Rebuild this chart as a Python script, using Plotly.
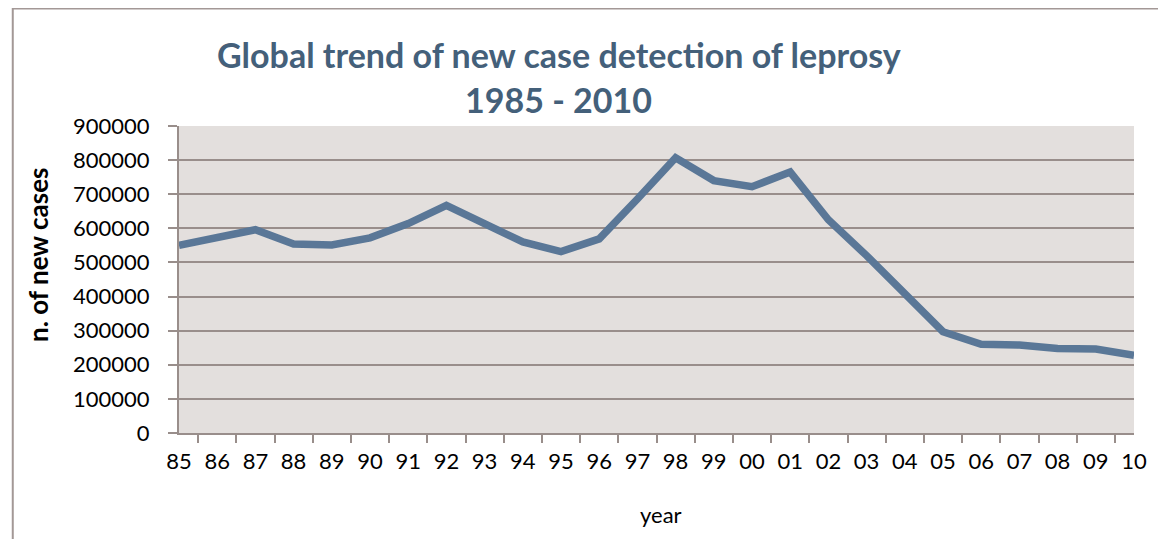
import plotly.graph_objects as go

years = ["85", "86", "87", "88", "89", "90", "91", "92", "93", "94", "95", "96", "97",
         "98", "99", "00", "01", "02", "03", "04", "05", "06", "07", "08", "09", "10"]
new_cases = [550000, 575000, 596000, 554000, 551000, 572000, 614000, 667000, 614000,
             560000, 532000, 569000, 686000, 807000, 740000, 722000, 765000, 625000,
             520000, 410000, 297000, 260000, 258000, 248000, 246000, 228000]
y_ticks = [0, 100000, 200000, 300000, 400000, 500000, 600000, 700000, 800000, 900000]

# page body has an 8px margin; keep the figure small enough to avoid scrollbars
OFF = 8
W, H = 1166 - 2 * OFF, 547 - 2 * OFF
px_left, px_right, px_top, px_bottom = 179, 1147, 126, 433
L = px_left - OFF
R = W - (px_right - OFF)
T = px_top - OFF
B = H - (px_bottom - OFF)
pw, ph = W - L - R, H - T - B


def xp(sx):
    return (sx - OFF - L) / pw


def yp(sy):
    return (H - B - (sy - OFF)) / ph


FONT = "Lato"
grid_col = "#998e8b"

fig = go.Figure()
fig.add_trace(go.Scatter(
    x=years, y=new_cases, mode="lines",
    line=dict(color="#5a7797", width=7.5),
    hoverinfo="x+y", showlegend=False,
))

fig.update_layout(
    width=W, height=H,
    margin=dict(l=L, r=R, t=T, b=B),
    paper_bgcolor="white",
    plot_bgcolor="#e3dfdd",
    font=dict(family=FONT, size=22, color="black"),
    xaxis=dict(
        type="category",
        tickson="boundaries",
        ticks="outside", ticklen=8, tickwidth=2, tickcolor=grid_col,
        showline=True, linecolor=grid_col, linewidth=2,
        showgrid=False,
        tickfont=dict(family=FONT, size=22),
        ticklabelstandoff=8,
    ),
    yaxis=dict(
        range=[0, 900000],
        tickvals=y_ticks,
        tickformat="d",
        ticks="outside", ticklen=9, tickwidth=2, tickcolor=grid_col,
        showline=True, linecolor=grid_col, linewidth=2,
        showgrid=True, gridcolor=grid_col, gridwidth=2,
        zeroline=False,
        tickfont=dict(family=FONT, size=22),
        ticklabelstandoff=14,
    ),
    annotations=[
        dict(text="<b>Global trend of new case detection of leprosy</b>",
             xref="paper", yref="paper",
             x=xp(564), y=yp(55),
             xanchor="center", yanchor="middle", showarrow=False,
             font=dict(family=FONT, size=34, color="#44607a")),
        dict(text="<b>1985 - 2010</b>",
             xref="paper", yref="paper",
             x=xp(564), y=yp(100),
             xanchor="center", yanchor="middle", showarrow=False,
             font=dict(family=FONT, size=34, color="#44607a")),
        dict(text="<b>n. of new cases</b>",
             xref="paper", yref="paper",
             x=xp(36), y=yp(255),
             xanchor="center", yanchor="middle", showarrow=False, textangle=-90,
             font=dict(family=FONT, size=26, color="black")),
        dict(text="year",
             xref="paper", yref="paper",
             x=xp(668), y=yp(514),
             xanchor="center", yanchor="middle", showarrow=False,
             font=dict(family=FONT, size=22, color="black")),
    ],
    shapes=[
        dict(type="rect", xref="paper", yref="paper",
             x0=xp(10.5), x1=1.2, y0=-0.6, y1=yp(8.5),
             line=dict(color="#a39896", width=2), fillcolor="rgba(0,0,0,0)",
             layer="below"),
    ],
)

fig.write_html("out.html")
